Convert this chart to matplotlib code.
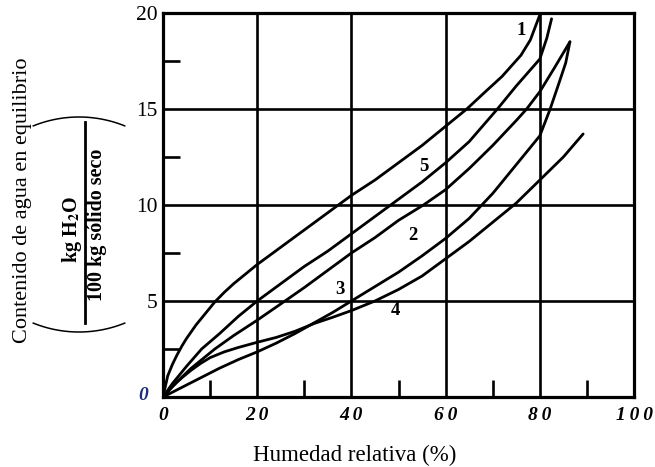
import numpy as np
import matplotlib
matplotlib.use('Agg')
import matplotlib.pyplot as plt
from matplotlib.ticker import FixedLocator

plt.rcParams['font.family'] = ['Liberation Serif', 'DejaVu Serif']
plt.rcParams['mathtext.fontset'] = 'stix'

# Curvas (humedad relativa %, kg agua / 100 kg solido seco)
hr_1 = [0, 1, 2, 3, 4, 5, 6, 7, 8, 9, 10, 11, 13, 15, 17.5, 20, 25, 30, 35, 40, 45, 50,
        55, 60, 64.5, 68, 72, 76, 78, 80]
x_1 = [0, 1.1, 1.7, 2.2, 2.65, 3.05, 3.4, 3.75, 4.05, 4.35, 4.65, 4.95, 5.45, 5.9, 6.4,
       6.9, 7.8, 8.7, 9.6, 10.5, 11.3, 12.2, 13.1, 14.1, 15, 15.8, 16.7, 17.8, 18.6, 19.9]

hr_5 = [0, 2, 5, 8.2, 12, 16, 20, 25, 30, 35, 40, 45, 50, 55, 60, 65, 71, 75, 80, 81.5, 82.5]
x_5 = [0, 0.7, 1.6, 2.5, 3.3, 4.2, 5, 5.9, 6.8, 7.6, 8.5, 9.4, 10.3, 11.2, 12.2, 13.3, 15,
       16.2, 17.6, 18.7, 19.7]

hr_2 = [0, 3, 6, 11, 15, 20, 25.9, 30, 35, 40, 45, 50, 55.3, 60, 65, 70, 75, 77.2, 80, 83, 86.4]
x_2 = [0, 0.8, 1.5, 2.5, 3.2, 4.0, 5, 5.7, 6.6, 7.5, 8.3, 9.2, 10, 10.8, 11.9, 13.1, 14.4,
       15, 15.9, 17.1, 18.5]

hr_3 = [0, 4, 8, 12, 16, 20, 24, 28, 32, 36, 40, 45, 50, 55, 60, 65, 67.3, 70, 75, 80,
        82.2, 84, 85.5, 86.4]
x_3 = [0, 0.5, 1.0, 1.5, 1.95, 2.35, 2.8, 3.3, 3.85, 4.4, 5.0, 5.75, 6.5, 7.35, 8.26, 9.3,
       9.9, 10.6, 12.1, 13.6, 15, 16.3, 17.4, 18.5]

hr_4 = [0, 2, 4, 6, 8, 10, 13, 16, 20, 24, 28, 32, 36, 40, 45, 50, 55, 60, 65, 70, 75,
        80, 85, 89.2]
x_4 = [0, 0.55, 1.0, 1.4, 1.75, 2.05, 2.35, 2.58, 2.85, 3.1, 3.42, 3.82, 4.15, 4.5,
       5.0, 5.6, 6.3, 7.2, 8.1, 9.1, 10.1, 11.3, 12.5, 13.7]

curvas = [(hr_1, x_1), (hr_5, x_5), (hr_2, x_2), (hr_3, x_3), (hr_4, x_4)]

etiquetas = ['1', '5', '2', '3', '4']
etiq_x = [76.1, 55.3, 53.1, 37.6, 49.3]
etiq_y = [19.1, 12.0, 8.4, 5.6, 4.5]

xticks = [0, 20, 40, 60, 80, 100]
xtick_labels = ['0', '2\u20090', '4\u20090', '6\u20090', '8\u20090', '1\u20090\u20090']
yticks = [5, 10, 15, 20]

fig = plt.figure(figsize=(6.55, 4.67), dpi=100)
ax = fig.add_axes([163 / 655, 70 / 467, 471 / 655, 384 / 467])

for hr, x in curvas:
    ax.plot(hr, x, color='black', lw=2.0, solid_capstyle='round',
            solid_joinstyle='round', zorder=3)

for t, tx, ty in zip(etiquetas, etiq_x, etiq_y):
    ax.text(tx, ty, t, fontsize=13.5, fontweight='bold', ha='center', va='center', zorder=4)

ax.set_xlim(0, 100)
ax.set_ylim(0, 20)

# rejilla gruesa
for g in [20, 40, 60, 80]:
    ax.axvline(g, color='black', lw=1.9, zorder=2)
for g in [5, 10, 15]:
    ax.axhline(g, color='black', lw=1.9, zorder=2)

for s in ax.spines.values():
    s.set_linewidth(2.3)

ax.set_xticks(xticks)
ax.set_xticklabels(xtick_labels, fontsize=14, style='italic', fontweight='bold')
ax.set_yticks(yticks)
ax.set_yticklabels([str(v) for v in yticks], fontsize=15.5)
ax.tick_params(which='major', length=0)
ax.tick_params(axis='x', which='major', pad=7)
ax.tick_params(axis='y', which='major', pad=4)
ax.xaxis.set_minor_locator(FixedLocator([10, 30, 50, 70, 90]))
ax.yaxis.set_minor_locator(FixedLocator([2.5, 7.5, 12.5, 17.5]))
ax.tick_params(which='minor', direction='in', length=12, width=1.9)

# el cero del eje y
ax.text(-3.2, 0.1, '0', fontsize=14, style='italic', fontweight='bold', color='#1c2f7a',
        ha='right', va='center', clip_on=False)

ax.set_xlabel('Humedad relativa (%)', fontsize=16.5)
ax.xaxis.set_label_coords(0.408, -0.125)

# etiqueta del eje y con fraccion y parentesis, en pixeles de la figura
ov = fig.add_axes([0, 0, 1, 1])
ov.set_xlim(0, 655)
ov.set_ylim(467, 0)
ov.axis('off')
ov.patch.set_alpha(0)

ov.text(23, 200, 'Contenido de agua en equilibrio', rotation=90, fontsize=16,
        ha='center', va='center')
ov.text(72, 230, 'kg H$_\\mathbf{2}$O', rotation=90, fontsize=14.5,
        fontweight='bold', ha='center', va='center')
ov.text(97, 225, '100 kg sólido seco', rotation=90, fontsize=14.5,
        fontweight='bold', ha='center', va='center')
ov.plot([85, 85], [122, 323], color='black', lw=2)

t = np.radians(np.linspace(-22, 22, 40))
ov.plot(79 + 122 * np.sin(t), 239 - 122 * np.cos(t), color='black', lw=1.1)
ov.plot(79 + 122 * np.sin(t), 210 + 122 * np.cos(t), color='black', lw=1.1)

plt.savefig('out.png', dpi=100)
